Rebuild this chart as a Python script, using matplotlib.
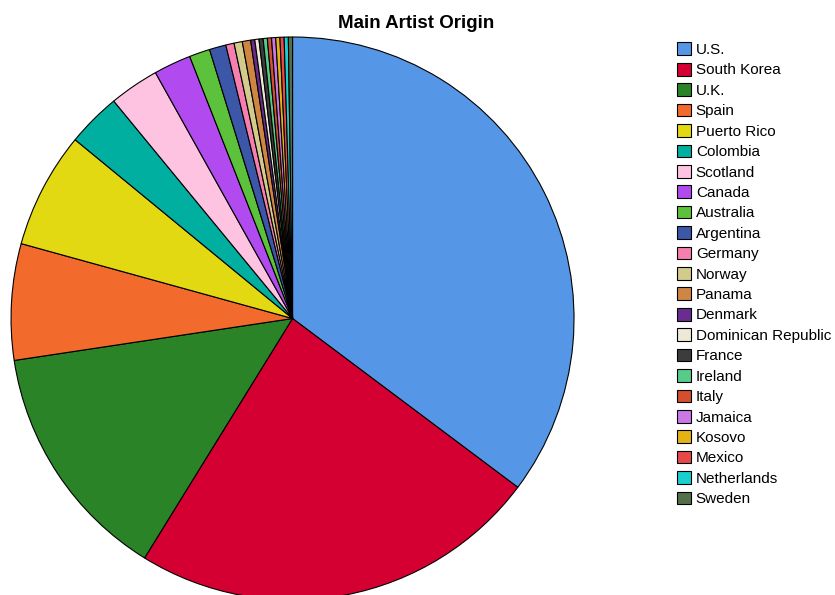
import matplotlib
matplotlib.use("Agg")
import matplotlib.pyplot as plt

plt.rcParams['font.family'] = ['Liberation Sans', 'DejaVu Sans']

# number of songs per main artist origin
countries = ['U.S.', 'South Korea', 'U.K.', 'Spain', 'Puerto Rico', 'Colombia',
             'Scotland', 'Canada', 'Australia', 'Argentina', 'Germany', 'Norway',
             'Panama', 'Denmark', 'Dominican Republic', 'France', 'Ireland', 'Italy',
             'Jamaica', 'Kosovo', 'Mexico', 'Netherlands', 'Sweden']
counts = [148, 99, 58, 28, 28, 13, 12, 9, 5, 4, 2, 2, 2, 1, 1, 1, 1, 1, 1, 1, 1, 1, 1]
colors = ['#5596e6', '#d50032', '#2a8326', '#f26a2c', '#e3d913', '#00afa0',
          '#ffc3e2', '#b14bf0', '#5dc23b', '#3c56a8', '#f77fb0', '#d2cb8c',
          '#ce8642', '#6b2c91', '#ede9d6', '#3c3c3c', '#55cc88', '#d44f2e',
          '#cc77e6', '#e3b416', '#e84848', '#1acfd0', '#54704a']

fig = plt.figure(figsize=(8.35, 5.95), dpi=100)
ax = fig.add_axes([0.0132, -0.0084, 0.6743, 0.9462])

wedges, _ = ax.pie(counts, colors=colors, startangle=90, counterclock=False,
                   wedgeprops=dict(edgecolor='black', linewidth=0.8))
ax.set_xlim(-1, 1)
ax.set_ylim(-1, 1)
ax.set_aspect('equal')
for w in wedges:
    w.set_clip_on(False)

fig.text(0.498, 0.960, 'Main Artist Origin', ha='center', va='center',
         fontsize=13.5, fontweight='bold')

fig.legend(wedges, countries, loc='upper left', bbox_to_anchor=(0.8108, 0.9287),
           frameon=False, fontsize=11, handlelength=0.9, handleheight=0.9,
           labelspacing=0.38, handletextpad=0.33, borderpad=0, borderaxespad=0)

fig.savefig('out.png', dpi=100)
